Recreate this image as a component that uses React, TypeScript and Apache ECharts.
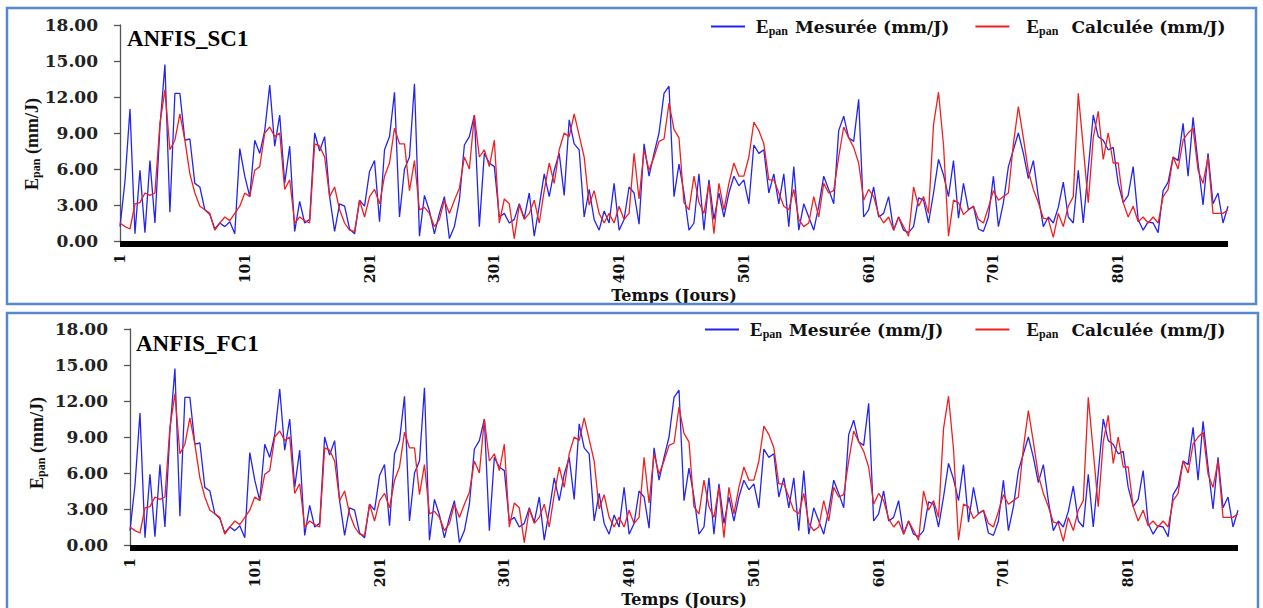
import React, { useEffect, useRef } from "react";
import * as echarts from "echarts";

const mesuree: number[] = [
  1.2, 5.0, 11.0, 0.6, 5.9, 0.7, 6.7, 1.5, 9.5, 14.7,
  2.4, 12.3, 12.3, 8.4, 8.5, 4.8, 4.5, 2.6, 2.2, 1.0,
  1.5, 1.2, 1.6, 0.6, 7.7, 5.4, 3.7, 8.4, 7.3, 9.2,
  13.0, 7.9, 10.5, 4.8, 7.9, 0.8, 3.3, 1.5, 1.8, 9.0,
  7.5, 8.7, 3.7, 0.8, 3.1, 2.9, 1.0, 0.6, 3.4, 2.9,
  5.8, 6.7, 1.6, 7.6, 8.7, 12.4, 2.0, 6.0, 7.0, 13.1,
  0.4, 3.8, 2.5, 0.6, 2.3, 3.7, 0.2, 1.2, 3.4, 8.0,
  8.7, 10.5, 1.2, 7.3, 6.5, 6.2, 2.0, 2.3, 1.5, 1.8,
  3.1, 1.9, 4.0, 0.4, 2.9, 5.6, 3.7, 5.9, 7.3, 3.8,
  10.1, 8.1, 7.6, 2.0, 4.3, 1.8, 0.9, 2.5, 1.5, 4.8,
  0.9, 1.8, 4.5, 4.0, 1.4, 8.1, 5.4, 7.3, 9.0, 12.3,
  12.9, 3.7, 6.4, 4.0, 0.9, 1.5, 5.6, 0.9, 5.1, 1.8,
  4.0, 2.0, 4.0, 5.4, 4.6, 5.1, 3.1, 8.0, 7.3, 7.6,
  4.0, 5.6, 3.1, 5.6, 1.2, 6.2, 0.9, 3.1, 2.0, 0.9,
  2.9, 5.4, 4.3, 3.1, 9.2, 10.4, 8.6, 8.3, 11.8, 2.0,
  2.6, 4.5, 2.0, 2.3, 3.7, 0.9, 2.0, 0.9, 0.7, 1.2,
  3.6, 3.4, 1.5, 4.0, 6.8, 5.5, 3.7, 6.7, 1.9, 4.8,
  2.6, 2.9, 1.0, 0.8, 2.0, 5.4, 1.2, 3.2, 6.2, 7.6,
  9.0, 7.3, 5.2, 6.7, 3.7, 1.2, 2.0, 1.5, 2.8, 4.9,
  2.0, 1.5, 5.9, 1.5, 6.0, 10.5, 8.7, 8.4, 7.6, 7.8,
  4.8, 3.2, 3.8, 6.2, 1.8, 0.9, 1.6, 1.5, 0.7, 4.2,
  4.9, 7.0, 6.7, 9.8, 5.4, 10.3, 6.5, 3.0, 7.3, 3.1,
  4.0, 1.5, 2.9,
];

const calculeeSC1: number[] = [
  1.5, 1.2, 1.0, 3.1, 3.2, 4.0, 3.8, 4.0, 9.8, 12.6,
  7.6, 8.4, 10.6, 8.4, 5.6, 4.0, 2.9, 2.6, 2.3, 0.9,
  1.5, 2.0, 1.7, 2.3, 2.9, 4.0, 3.7, 5.9, 6.2, 9.0,
  9.5, 8.7, 9.0, 4.3, 5.1, 1.5, 2.0, 1.7, 1.5, 8.1,
  7.9, 7.0, 3.7, 4.5, 2.6, 1.5, 0.9, 0.8, 3.4, 2.0,
  3.7, 4.3, 3.1, 5.4, 6.5, 9.4, 8.1, 8.1, 4.2, 6.7,
  2.6, 2.8, 2.3, 1.2, 1.8, 3.4, 2.3, 3.4, 4.4, 7.0,
  6.0, 10.5, 7.0, 7.6, 6.2, 8.4, 1.5, 3.5, 3.1, 0.2,
  3.0, 1.8, 2.3, 3.4, 1.5, 4.2, 6.5, 4.8, 7.6, 9.0,
  8.7, 10.6, 8.8, 7.0, 3.0, 4.2, 2.3, 1.5, 2.3, 1.5,
  2.9, 1.8, 2.3, 7.3, 3.5, 7.6, 5.9, 7.0, 8.3, 8.5,
  11.5, 9.3, 8.6, 3.2, 2.6, 5.4, 3.2, 2.3, 4.8, 0.6,
  4.8, 2.6, 4.8, 6.5, 5.4, 5.4, 7.0, 9.9, 9.2, 8.1,
  5.1, 5.1, 4.0, 2.9, 2.6, 4.3, 1.8, 1.2, 1.5, 3.7,
  2.0, 4.8, 4.0, 4.2, 7.0, 9.5, 8.6, 7.8, 6.5, 3.4,
  4.3, 3.7, 2.2, 1.5, 2.0, 0.9, 2.0, 1.2, 0.4, 4.5,
  2.9, 3.7, 2.3, 9.7, 12.4, 8.0, 0.4, 3.4, 3.2, 2.2,
  2.6, 2.9, 1.8, 1.5, 2.8, 4.2, 3.4, 3.7, 4.0, 8.1,
  11.2, 8.6, 5.8, 4.3, 3.2, 1.9, 1.8, 0.3, 2.3, 1.2,
  2.9, 3.7, 12.3, 7.8, 3.2, 8.6, 10.8, 6.8, 9.0, 6.5,
  6.5, 3.2, 2.0, 2.9, 1.6, 2.0, 1.5, 2.0, 1.5, 3.7,
  4.3, 7.0, 6.0, 8.4, 9.0, 9.4, 5.9, 4.8, 7.0, 2.3,
  2.3, 2.3, 2.6,
];

// At this resolution the FC1 computed curve is indistinguishable from SC1
const calculeeFC1: number[] = calculeeSC1.slice();

const days: string[] = mesuree.map((_, i) => String(1 + 4 * i));
const xTickLabels = ["1", "101", "201", "301", "401", "501", "601", "701", "801"];
const panelTitles = ["ANFIS_SC1", "ANFIS_FC1"];
const nameMes = "Epan Mesurée (mm/J)";
const nameCal = "Epan Calculée (mm/J)";

const BLUE = "#2424f0";
const RED = "#f02020";
const WIDE = "DejaVu Serif";
const TIMES = "Liberation Serif";

export default function App() {
  const ref = useRef<HTMLDivElement>(null);

  useEffect(() => {
    if (!ref.current) return;
    const chart = echarts.init(ref.current, undefined, { renderer: "svg" });

    const grids = [
      { left: 120, top: 25, width: 1108, height: 216 },
      { left: 130, top: 329, width: 1108, height: 216 },
    ];

    const legendRich = {
      b0: { fontFamily: TIMES, fontWeight: "bold", fontSize: 19, color: "#111", lineHeight: 20, padding: [0, 0, 0, 6] },
      c0: { fontFamily: TIMES, fontWeight: "bold", fontSize: 19, color: "#111", lineHeight: 20, padding: [0, 0, 0, 12] },
      s: { fontFamily: TIMES, fontWeight: "bold", fontSize: 12, color: "#111", lineHeight: 11, verticalAlign: "bottom" },
      b: { fontFamily: WIDE, fontWeight: "bold", fontSize: 17, color: "#111", lineHeight: 20, padding: [0, 0, 0, 7] },
      c: { fontFamily: WIDE, fontWeight: "bold", fontSize: 17, color: "#111", lineHeight: 20, padding: [0, 0, 0, 13] },
    };
    const legendFormatter = (name: string) =>
      name === nameMes
        ? `{b0|E}{s|pan}{b|${name.replace("Epan ", "")}}`
        : `{c0|E}{s|pan}{c|${name.replace("Epan ", "")}}`;

    const xAxes = grids.map((_, g) => ({
      type: "category",
      gridIndex: g,
      data: days,
      boundaryGap: false,
      offset: 3,
      axisLine: { onZero: false, lineStyle: { color: "#000", width: 6, cap: "butt" } },
      axisTick: { show: false },
      axisLabel: {
        interval: (i: number) => xTickLabels.includes(days[i]),
        rotate: 90,
        margin: 10,
        fontFamily: WIDE,
        fontWeight: "bold",
        fontSize: 14,
        color: "#111",
      },
      name: "Temps (Jours)",
      nameLocation: "middle",
      nameGap: g === 0 ? 39 : 36,
      nameTextStyle: { fontFamily: WIDE, fontWeight: "bold", fontSize: 16, color: "#111" },
    }));

    const yAxes = grids.map((_, g) => ({
      type: "value",
      gridIndex: g,
      min: 0,
      max: 18,
      interval: 3,
      axisLine: { show: true, lineStyle: { color: "#555", width: 1.3 } },
      axisTick: { show: true, length: 6, lineStyle: { color: "#555", width: 1.3 } },
      splitLine: { show: false },
      axisLabel: {
        formatter: (v: number) => v.toFixed(2),
        margin: 22,
        fontFamily: WIDE,
        fontWeight: "bold",
        fontSize: 17,
        color: "#222",
      },
    }));

    const calcs = [calculeeSC1, calculeeFC1];
    const series: any[] = [];
    grids.forEach((_, g) => {
      series.push({
        type: "line",
        name: nameMes,
        xAxisIndex: g,
        yAxisIndex: g,
        data: mesuree,
        symbol: "none",
        color: BLUE,
        lineStyle: { color: BLUE, width: 1.3 },
      });
      series.push({
        type: "line",
        name: nameCal,
        xAxisIndex: g,
        yAxisIndex: g,
        data: calcs[g],
        symbol: "none",
        color: RED,
        lineStyle: { color: RED, width: 1.3 },
      });
    });

    const yTitle = (x: number, y: number) => ({
      type: "text",
      x,
      y,
      rotation: Math.PI / 2,
      style: {
        text: "{e|E}{s|pan}{e| (mm/J)}",
        align: "center",
        verticalAlign: "middle",
        rich: {
          e: { fontFamily: TIMES, fontWeight: "bold", fontSize: 18, fill: "#111", lineHeight: 20 },
          s: { fontFamily: TIMES, fontWeight: "bold", fontSize: 12, fill: "#111", lineHeight: 12, verticalAlign: "bottom" },
        },
      },
    });

    chart.setOption({
      animation: false,
      backgroundColor: "#fff",
      title: [
        { text: panelTitles[0], left: 122, top: 22, textStyle: { fontFamily: TIMES, fontWeight: "bold", fontSize: 23, color: "#000" } },
        { text: panelTitles[1], left: 131, top: 327, textStyle: { fontFamily: TIMES, fontWeight: "bold", fontSize: 23, color: "#000" } },
      ],
      legend: [
        { left: 706, top: 12, data: [nameMes, nameCal], icon: "rect", itemWidth: 34, itemHeight: 2, itemGap: 26, formatter: legendFormatter, textStyle: { rich: legendRich } },
        { left: 700, top: 315, data: [nameMes, nameCal], icon: "rect", itemWidth: 34, itemHeight: 2, itemGap: 32, formatter: legendFormatter, textStyle: { rich: legendRich } },
      ],
      grid: grids.map((g) => ({ ...g, containLabel: false, outerBoundsMode: "none" })),
      xAxis: xAxes,
      yAxis: yAxes,
      series,
      graphic: [
        { type: "rect", shape: { x: 7, y: 8, width: 1249, height: 296 }, style: { fill: "none", stroke: "#5588cc", lineWidth: 2.5 }, z: 100 },
        { type: "rect", shape: { x: 7, y: 313, width: 1251, height: 297 }, style: { fill: "none", stroke: "#5588cc", lineWidth: 2.5 }, z: 100 },
        yTitle(32, 144),
        yTitle(37, 443),
      ],
    });

    return () => chart.dispose();
  }, []);

  return (
    <div
      ref={ref}
      style={{ position: "absolute", left: 0, top: 0, width: 1263, height: 608 }}
    />
  );
}
